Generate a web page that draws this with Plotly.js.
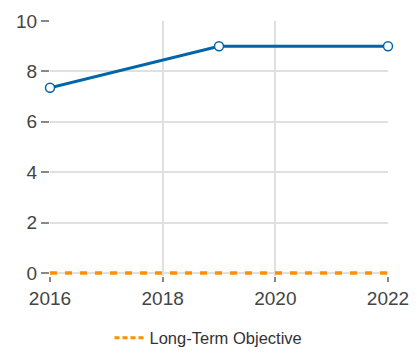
<!DOCTYPE html>
<html><head><meta charset="utf-8">
<script src="https://cdn.plot.ly/plotly-3.0.1.min.js"></script>
<style>html,body{margin:0;padding:0;background:#fff}#chart{width:417px;height:360px}</style>
</head><body><div id="chart"></div>
<script>
var years = [2016, 2019, 2022];
var values = [7.35, 9, 9];
var objectiveYears = [2016, 2022];
var objectiveValues = [0, 0];
var objectiveLabel = 'Long-Term Objective';

var traces = [
  {x: years, y: values, mode: 'lines+markers', name: 'Value', showlegend: false, cliponaxis: false,
   line: {color: '#0066a8', width: 3},
   marker: {size: 9, color: '#ffffff', line: {color: '#0066a8', width: 1.5}}},
  {x: objectiveYears, y: objectiveValues, mode: 'lines', name: objectiveLabel, showlegend: false, cliponaxis: false,
   line: {color: '#ff8f00', width: 3.4, dash: '7px,8px'}},
  {x: [null], y: [null], mode: 'lines', name: objectiveLabel, showlegend: true,
   line: {color: '#ff8f00', width: 3.2, dash: '5px,3px'}}
];
var layout = {
  width: 417, height: 360,
  margin: {l: 50, r: 29, t: 21, b: 84, autoexpand: false},
  paper_bgcolor: '#fff', plot_bgcolor: '#fff',
  font: {family: 'Liberation Sans, Arial, sans-serif', color: '#444'},
  showlegend: true,
  legend: {orientation: 'h', xref: 'container', yref: 'container', x: 0.5, xanchor: 'center', y: 0.061, yanchor: 'middle',
           font: {size: 16.5, color: '#333'}},
  xaxis: {range: [2016, 2022], tickvals: [2016, 2018, 2020, 2022], ticks: 'outside', ticklen: 5, tickwidth: 1.5, tickcolor: '#888',
          showgrid: true, gridcolor: '#e0e0e0', gridwidth: 1.5, zeroline: false, showline: false, tickfont: {size: 19, color: '#444'}},
  yaxis: {range: [-0.12, 10], tickvals: [0, 2, 4, 6, 8, 10], ticks: 'outside', ticklen: 8, tickwidth: 1.5, tickcolor: '#888',
          showgrid: true, gridcolor: '#e0e0e0', gridwidth: 1.5, zeroline: false, showline: false, tickfont: {size: 19, color: '#444'}}
};
Plotly.newPlot('chart', traces, layout, {displayModeBar: false});
</script></body></html>
